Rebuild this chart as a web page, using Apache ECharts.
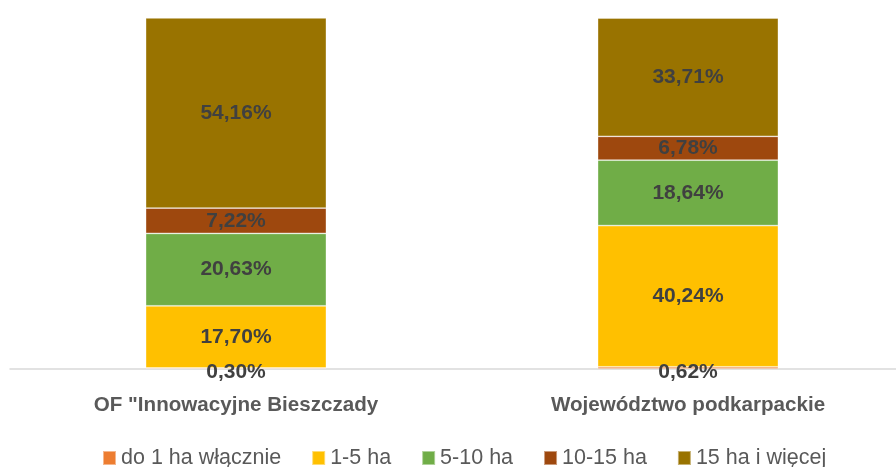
<!DOCTYPE html>
<html>
<head>
<meta charset="utf-8">
<script src="https://cdn.jsdelivr.net/npm/echarts@6/dist/echarts.min.js"></script>
<style>
  html, body { margin: 0; padding: 0; background: #fff; }
  #chart { width: 896px; height: 467px; }
</style>
</head>
<body>
<div id="chart"></div>
<script>
// kategorie i udziały procentowe
const categories = ['OF "Innowacyjne Bieszczady', 'Województwo podkarpackie'];
const seriesNames = ['do 1 ha włącznie', '1-5 ha', '5-10 ha', '10-15 ha', '15 ha i więcej'];
const upTo1 = [0.30, 0.62];
const from1to5 = [17.70, 40.24];
const from5to10 = [20.63, 18.64];
const from10to15 = [7.22, 6.78];
const over15 = [54.16, 33.71];
const colors = ['#ED7D31', '#FFC000', '#70AD47', '#9E480E', '#997300'];

const seriesData = [upTo1, from1to5, from5to10, from10to15, over15];

const chart = echarts.init(document.getElementById('chart'));

chart.setOption({
  animation: false,
  grid: { left: 10, width: 904, top: 18, bottom: 98, outerBoundsMode: 'none', containLabel: false },
  legend: {
    data: seriesNames,
    top: 442,
    left: 97,
    itemWidth: 13,
    itemHeight: 14,
    itemGap: 30,
    icon: 'rect',
    textStyle: { fontFamily: 'Liberation Sans', fontSize: 21.5, color: '#595959' }
  },
  xAxis: {
    type: 'category',
    data: categories,
    axisLine: { lineStyle: { color: '#d9d9d9', width: 1.5 } },
    axisTick: { show: false },
    axisLabel: {
      margin: 26,
      fontFamily: 'Liberation Sans',
      fontWeight: 'bold',
      fontSize: 20.6,
      color: '#595959'
    }
  },
  yAxis: {
    type: 'value',
    min: 0,
    max: 100,
    show: false,
    splitLine: { show: false }
  },
  series: seriesNames.map((name, i) => ({
    name: name,
    type: 'bar',
    stack: 'total',
    barWidth: '40%',
    data: seriesData[i],
    itemStyle: { color: colors[i], borderColor: 'rgba(255,255,255,0.45)', borderWidth: 0.8 },
    label: {
      show: true,
      position: 'inside',
      offset: i === 0 ? [0, 4] : [0, 0],
      formatter: p => p.value.toFixed(2).replace('.', ',') + '%',
      fontFamily: 'Liberation Sans',
      fontWeight: 'bold',
      fontSize: 21,
      color: '#404040'
    }
  }))
});
</script>
</body>
</html>
